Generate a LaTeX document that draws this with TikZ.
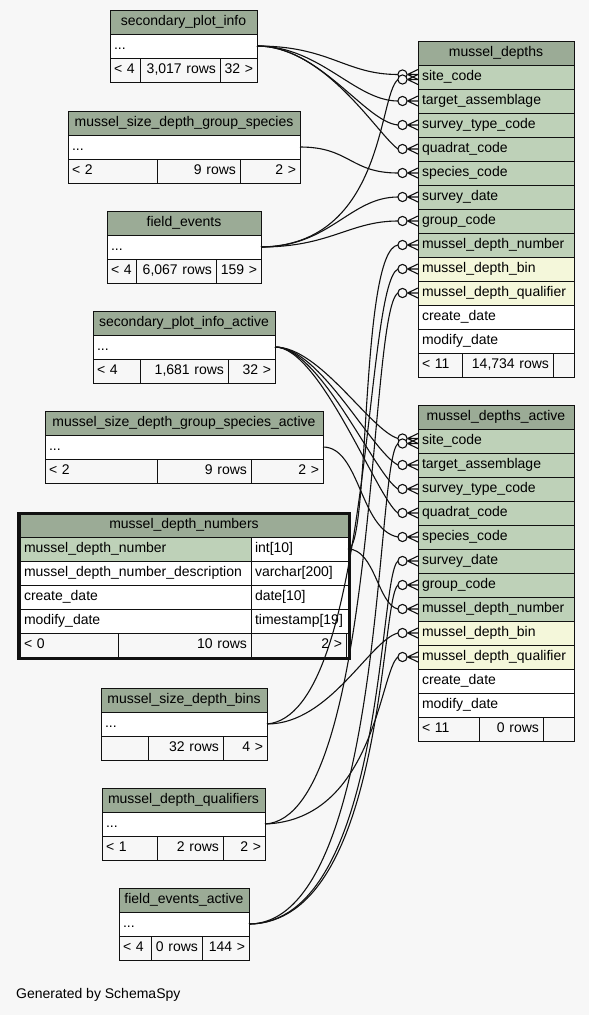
\documentclass[tikz,border=0pt]{standalone}
\usepackage{fontspec}
\setmainfont{Liberation Sans}
\usepackage{tikz}
\usetikzlibrary{positioning}
\definecolor{bggray}{HTML}{F7F7F7}
\definecolor{headgreen}{HTML}{9BAB96}
\definecolor{keygreen}{HTML}{BED1B8}
\definecolor{idxyellow}{HTML}{F4F7DA}
\definecolor{linegray}{HTML}{111111}

\begin{document}
\begin{tikzpicture}[
    x=1pt, y=-1pt,
    cell/.style={rectangle, draw=linegray, line width=1pt, minimum height=24pt, inner xsep=4pt, inner ysep=0pt, outer sep=0pt, text height=10pt, text depth=3pt, font=\fontsize{14}{16}\selectfont},
    head/.style={cell, fill=headgreen, align=center},
    keyrow/.style={cell, fill=keygreen, align=left},
    idxrow/.style={cell, fill=idxyellow, align=left},
    plainrow/.style={cell, fill=white, align=left},
    footl/.style={cell, fill=bggray, align=left},
    footr/.style={cell, fill=bggray, align=right},
    fk/.style={draw=linegray, line width=1.1pt},
    crowdot/.pic={
        \draw[linegray, line width=1.1pt, fill=bggray] (-15.5,0) circle (4.6pt);
        \draw[linegray, line width=1.1pt] (-10.5,0) -- (0,-5) (-10.5,0) -- (0,0) (-10.5,0) -- (0,5);
    }
]

\useasboundingbox (0,0) rectangle (589,1015);
\fill[bggray] (0,0) rectangle (589,1015);

% secondary_plot_info
\node[head, text width=139pt, anchor=north west] (spi-head) at (110,10) {secondary\_plot\_info};
\node[plainrow, text width=139pt, below=0pt of spi-head] (spi-dots) {...};
\node[footl, text width=22pt, below=0pt of spi-dots.south west, anchor=north west] (spi-f1) {< 4};
\node[footr, text width=72pt, right=0pt of spi-f1] (spi-f2) {3,017 rows};
\node[footr, text width=29pt, right=0pt of spi-f2] (spi-f3) {32 >};

% mussel_size_depth_group_species
\node[head, text width=224pt, anchor=north west] (msdgs-head) at (68,111) {mussel\_size\_depth\_group\_species};
\node[plainrow, text width=224pt, below=0pt of msdgs-head] (msdgs-dots) {...};
\node[footl, text width=81pt, below=0pt of msdgs-dots.south west, anchor=north west] (msdgs-f1) {< 2};
\node[footr, text width=75pt, right=0pt of msdgs-f1] (msdgs-f2) {9 rows};
\node[footr, text width=52pt, right=0pt of msdgs-f2] (msdgs-f3) {2 >};

% field_events
\node[head, text width=146pt, anchor=north west] (fe-head) at (107,211) {field\_events};
\node[plainrow, text width=146pt, below=0pt of fe-head] (fe-dots) {...};
\node[footl, text width=21pt, below=0pt of fe-dots.south west, anchor=north west] (fe-f1) {< 4};
\node[footr, text width=72pt, right=0pt of fe-f1] (fe-f2) {6,067 rows};
\node[footr, text width=37pt, right=0pt of fe-f2] (fe-f3) {159 >};

% secondary_plot_info_active
\node[head, text width=174pt, anchor=north west] (spia-head) at (93,311) {secondary\_plot\_info\_active};
\node[plainrow, text width=174pt, below=0pt of spia-head] (spia-dots) {...};
\node[footl, text width=39pt, below=0pt of spia-dots.south west, anchor=north west] (spia-f1) {< 4};
\node[footr, text width=80pt, right=0pt of spia-f1] (spia-f2) {1,681 rows};
\node[footr, text width=39pt, right=0pt of spia-f2] (spia-f3) {32 >};

% mussel_size_depth_group_species_active
\node[head, text width=270pt, anchor=north west] (msdgsa-head) at (45,411) {mussel\_size\_depth\_group\_species\_active};
\node[plainrow, text width=270pt, below=0pt of msdgsa-head] (msdgsa-dots) {...};
\node[footl, text width=104pt, below=0pt of msdgsa-dots.south west, anchor=north west] (msdgsa-f1) {< 2};
\node[footr, text width=86pt, right=0pt of msdgsa-f1] (msdgsa-f2) {9 rows};
\node[footr, text width=64pt, right=0pt of msdgsa-f2] (msdgsa-f3) {2 >};

% mussel_depth_numbers
\node[head, text width=320pt, anchor=north west] (mdn-head) at (20,513) {mussel\_depth\_numbers};
\node[keyrow, text width=223pt, below=0pt of mdn-head.south west, anchor=north west] (mdn-num) {mussel\_depth\_number};
\node[plainrow, text width=89pt, right=0pt of mdn-num] (mdn-numtype) {int[10]};
\node[plainrow, text width=223pt, below=0pt of mdn-num] (mdn-desc) {mussel\_depth\_number\_description};
\node[plainrow, text width=89pt, right=0pt of mdn-desc] (mdn-desctype) {varchar[200]};
\node[plainrow, text width=223pt, below=0pt of mdn-desc] (mdn-create) {create\_date};
\node[plainrow, text width=89pt, right=0pt of mdn-create] (mdn-createtype) {date[10]};
\node[plainrow, text width=223pt, below=0pt of mdn-create] (mdn-modify) {modify\_date};
\node[plainrow, text width=89pt, right=0pt of mdn-modify] (mdn-modifytype) {timestamp[19]};
\node[footl, text width=90pt, below=0pt of mdn-modify.south west, anchor=north west] (mdn-f1) {< 0};
\node[footr, text width=125pt, right=0pt of mdn-f1] (mdn-f2) {10 rows};
\node[footr, text width=87pt, right=0pt of mdn-f2] (mdn-f3) {2 >};
\draw[linegray, line width=3pt] (18.5,513) rectangle (349.5,658);

% mussel_size_depth_bins
\node[head, text width=158pt, anchor=north west] (bins-head) at (101,688) {mussel\_size\_depth\_bins};
\node[plainrow, text width=158pt, below=0pt of bins-head] (bins-dots) {...};
\node[footl, text width=39pt, below=0pt of bins-dots.south west, anchor=north west] (bins-f1) {};
\node[footr, text width=67pt, right=0pt of bins-f1] (bins-f2) {32 rows};
\node[footr, text width=36pt, right=0pt of bins-f2] (bins-f3) {4 >};

% mussel_depth_qualifiers
\node[head, text width=155pt, anchor=north west] (qual-head) at (102,788) {mussel\_depth\_qualifiers};
\node[plainrow, text width=155pt, below=0pt of qual-head] (qual-dots) {...};
\node[footl, text width=47pt, below=0pt of qual-dots.south west, anchor=north west] (qual-f1) {< 1};
\node[footr, text width=58pt, right=0pt of qual-f1] (qual-f2) {2 rows};
\node[footr, text width=34pt, right=0pt of qual-f2] (qual-f3) {2 >};

% field_events_active
\node[head, text width=122pt, anchor=north west] (fea-head) at (119,888) {field\_events\_active};
\node[plainrow, text width=122pt, below=0pt of fea-head] (fea-dots) {...};
\node[footl, text width=24pt, below=0pt of fea-dots.south west, anchor=north west] (fea-f1) {< 4};
\node[footr, text width=43pt, right=0pt of fea-f1] (fea-f2) {0 rows};
\node[footr, text width=39pt, right=0pt of fea-f2] (fea-f3) {144 >};

% mussel_depths
\node[head, text width=148pt, anchor=north west] (md-head) at (418,41) {mussel\_depths};
\node[keyrow, text width=148pt, below=0pt of md-head] (md-site) {site\_code};
\node[keyrow, text width=148pt, below=0pt of md-site] (md-target) {target\_assemblage};
\node[keyrow, text width=148pt, below=0pt of md-target] (md-stype) {survey\_type\_code};
\node[keyrow, text width=148pt, below=0pt of md-stype] (md-quad) {quadrat\_code};
\node[keyrow, text width=148pt, below=0pt of md-quad] (md-species) {species\_code};
\node[keyrow, text width=148pt, below=0pt of md-species] (md-sdate) {survey\_date};
\node[keyrow, text width=148pt, below=0pt of md-sdate] (md-group) {group\_code};
\node[keyrow, text width=148pt, below=0pt of md-group] (md-mdn) {mussel\_depth\_number};
\node[idxrow, text width=148pt, below=0pt of md-mdn] (md-bin) {mussel\_depth\_bin};
\node[idxrow, text width=148pt, below=0pt of md-bin] (md-qual) {mussel\_depth\_qualifier};
\node[plainrow, text width=148pt, below=0pt of md-qual] (md-create) {create\_date};
\node[plainrow, text width=148pt, below=0pt of md-create] (md-modify) {modify\_date};
\node[footl, text width=36pt, below=0pt of md-modify.south west, anchor=north west] (md-f1) {< 11};
\node[footr, text width=83pt, right=0pt of md-f1] (md-f2) {14,734 rows};
\node[footr, text width=13pt, right=0pt of md-f2] (md-f3) {};

% mussel_depths_active
\node[head, text width=148pt, anchor=north west] (mda-head) at (418,405) {mussel\_depths\_active};
\node[keyrow, text width=148pt, below=0pt of mda-head] (mda-site) {site\_code};
\node[keyrow, text width=148pt, below=0pt of mda-site] (mda-target) {target\_assemblage};
\node[keyrow, text width=148pt, below=0pt of mda-target] (mda-stype) {survey\_type\_code};
\node[keyrow, text width=148pt, below=0pt of mda-stype] (mda-quad) {quadrat\_code};
\node[keyrow, text width=148pt, below=0pt of mda-quad] (mda-species) {species\_code};
\node[keyrow, text width=148pt, below=0pt of mda-species] (mda-sdate) {survey\_date};
\node[keyrow, text width=148pt, below=0pt of mda-sdate] (mda-group) {group\_code};
\node[keyrow, text width=148pt, below=0pt of mda-group] (mda-mdn) {mussel\_depth\_number};
\node[idxrow, text width=148pt, below=0pt of mda-mdn] (mda-bin) {mussel\_depth\_bin};
\node[idxrow, text width=148pt, below=0pt of mda-bin] (mda-qual) {mussel\_depth\_qualifier};
\node[plainrow, text width=148pt, below=0pt of mda-qual] (mda-create) {create\_date};
\node[plainrow, text width=148pt, below=0pt of mda-create] (mda-modify) {modify\_date};
\node[footl, text width=53pt, below=0pt of mda-modify.south west, anchor=north west] (mda-f1) {< 11};
\node[footr, text width=56pt, right=0pt of mda-f1] (mda-f2) {0 rows};
\node[footr, text width=23pt, right=0pt of mda-f2] (mda-f3) {};

\node[font=\fontsize{14}{16}\selectfont, anchor=west, inner sep=0pt] (credit) at (16,995) {Generated by SchemaSpy};

% links into mussel_depths
\draw[fk] (spi-dots.east) .. controls (330,46) and (345,74.5) .. ([xshift=-20pt,yshift=2.5pt]md-site.west);
\draw[fk] (spi-dots.east) .. controls (320,46) and (355,101) .. ([xshift=-20pt]md-target.west);
\draw[fk] (spi-dots.east) .. controls (320,46) and (365,122) .. ([xshift=-20pt]md-stype.west);
\draw[fk] (spi-dots.east) .. controls (325,46) and (378,135) .. ([xshift=-20pt]md-quad.west);
\draw[fk] (msdgs-dots.east) .. controls (350,147) and (350,173) .. ([xshift=-20pt]md-species.west);
\draw[fk] (fe-dots.east) .. controls (385,245) and (378,95) .. ([xshift=-20pt,yshift=-2.5pt]md-site.west);
\draw[fk] (fe-dots.east) .. controls (330,247) and (350,197) .. ([xshift=-20pt]md-sdate.west);
\draw[fk] (fe-dots.east) .. controls (330,247) and (350,221) .. ([xshift=-20pt]md-group.west);
\draw[fk] (mdn-numtype.east) .. controls (370,549) and (360,250) .. ([xshift=-20pt]md-mdn.west);
\draw[fk] (bins-dots.east) .. controls (372,715) and (364,285) .. ([xshift=-20pt]md-bin.west);
\draw[fk] (qual-dots.east) .. controls (378,818) and (368,310) .. ([xshift=-20pt]md-qual.west);

% links into mussel_depths_active
\draw[fk] (spia-dots.east) .. controls (320,347) and (370,430) .. ([xshift=-20pt,yshift=2.5pt]mda-site.west);
\draw[fk] (spia-dots.east) .. controls (320,347) and (372,452) .. ([xshift=-20pt]mda-target.west);
\draw[fk] (spia-dots.east) .. controls (320,347) and (375,475) .. ([xshift=-20pt]mda-stype.west);
\draw[fk] (spia-dots.east) .. controls (320,347) and (378,500) .. ([xshift=-20pt]mda-quad.west);
\draw[fk] (msdgsa-dots.east) .. controls (360,447) and (360,530) .. ([xshift=-20pt]mda-species.west);
\draw[fk] (fea-dots.east) .. controls (385,923) and (375,460) .. ([xshift=-20pt,yshift=-2.5pt]mda-site.west);
\draw[fk] (fea-dots.east) .. controls (385,923) and (378,575) .. ([xshift=-20pt]mda-sdate.west);
\draw[fk] (fea-dots.east) .. controls (385,923) and (380,598) .. ([xshift=-20pt]mda-group.west);
\draw[fk] (mdn-numtype.east) .. controls (375,549) and (378,605) .. ([xshift=-20pt]mda-mdn.west);
\draw[fk] (bins-dots.east) .. controls (330,724) and (370,640) .. ([xshift=-20pt]mda-bin.west);
\draw[fk] (qual-dots.east) .. controls (375,820) and (380,670) .. ([xshift=-20pt]mda-qual.west);

% crow's feet
\pic at ([yshift=2.5pt]md-site.west) {crowdot};
\pic at ([yshift=-2.5pt]md-site.west) {crowdot};
\pic at (md-target.west) {crowdot};
\pic at (md-stype.west) {crowdot};
\pic at (md-quad.west) {crowdot};
\pic at (md-species.west) {crowdot};
\pic at (md-sdate.west) {crowdot};
\pic at (md-group.west) {crowdot};
\pic at (md-mdn.west) {crowdot};
\pic at (md-bin.west) {crowdot};
\pic at (md-qual.west) {crowdot};
\pic at ([yshift=2.5pt]mda-site.west) {crowdot};
\pic at ([yshift=-2.5pt]mda-site.west) {crowdot};
\pic at (mda-target.west) {crowdot};
\pic at (mda-stype.west) {crowdot};
\pic at (mda-quad.west) {crowdot};
\pic at (mda-species.west) {crowdot};
\pic at (mda-sdate.west) {crowdot};
\pic at (mda-group.west) {crowdot};
\pic at (mda-mdn.west) {crowdot};
\pic at (mda-bin.west) {crowdot};
\pic at (mda-qual.west) {crowdot};

\end{tikzpicture}
\end{document}
